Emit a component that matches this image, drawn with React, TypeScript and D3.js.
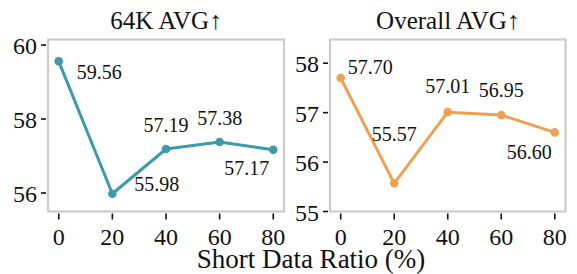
import React from "react";
import * as d3 from "d3";

const ratios = [0, 20, 40, 60, 80];
const avg64k = [59.56, 55.98, 57.19, 57.38, 57.17];
const overallAvg = [57.7, 55.57, 57.01, 56.95, 56.6];
const xTicks = [0, 20, 40, 60, 80];
const yTicks64k = [56, 58, 60];
const yTicksOverall = [55, 56, 57, 58];
const titles = ["64K AVG↑", "Overall AVG↑"];
const xLabel = "Short Data Ratio (%)";

// label placement: [dx, dy(baseline), anchor]
const offsets64k: [number, number, string][] = [
  [18, 18, "start"],
  [22, -3, "start"],
  [0, -17, "middle"],
  [0, -17, "middle"],
  [-4, 25, "end"],
];
const offsetsOverall: [number, number, string][] = [
  [7, -4, "start"],
  [0, -42, "middle"],
  [0, -19, "middle"],
  [0, -18, "middle"],
  [-3, 27, "end"],
];

const FONT = "'Liberation Serif', 'Times New Roman', serif";

type PanelProps = {
  x0: number;
  x1: number;
  y0: number;
  y1: number;
  yDomain: [number, number];
  values: number[];
  yTicks: number[];
  color: string;
  title: string;
  offsets: [number, number, string][];
  decimals: number;
};

function Panel(p: PanelProps) {
  const x = d3.scaleLinear().domain([-4, 84]).range([p.x0, p.x1]);
  const y = d3.scaleLinear().domain(p.yDomain).range([p.y1, p.y0]);
  const pts = ratios.map((r, i) => [x(r), y(p.values[i])] as [number, number]);
  const line = d3.line()(pts) || "";
  return (
    <g>
      <text x={(p.x0 + p.x1) / 2} y={29} textAnchor="middle" fontSize={25} fontFamily={FONT} fill="#111">
        {p.title}
      </text>
      <rect x={p.x0} y={p.y0} width={p.x1 - p.x0} height={p.y1 - p.y0} fill="white" stroke="#cccccc" strokeWidth={2.2} />
      {p.yTicks.map((t) => (
        <g key={"y" + t}>
          <line x1={p.x0 - 2} x2={p.x0 - 7} y1={y(t)} y2={y(t)} stroke="#111" strokeWidth={1.6} />
          <text x={p.x0 - 11} y={y(t) + 9} textAnchor="end" fontSize={24} fontFamily={FONT} fill="#111">
            {t}
          </text>
        </g>
      ))}
      {xTicks.map((t) => (
        <g key={"x" + t}>
          <line x1={x(t)} x2={x(t)} y1={p.y1 + 2} y2={p.y1 + 8} stroke="#111" strokeWidth={1.6} />
          <text x={x(t)} y={245} textAnchor="middle" fontSize={24} fontFamily={FONT} fill="#111">
            {t}
          </text>
        </g>
      ))}
      <path d={line} fill="none" stroke={p.color} strokeWidth={3} strokeLinejoin="round" />
      {pts.map((pt, i) => (
        <circle key={"c" + i} cx={pt[0]} cy={pt[1]} r={4.3} fill={p.color} />
      ))}
      {pts.map((pt, i) => (
        <text
          key={"l" + i}
          x={pt[0] + p.offsets[i][0]}
          y={pt[1] + p.offsets[i][1]}
          textAnchor={p.offsets[i][2] as any}
          fontSize={20}
          fontFamily={FONT}
          fill="#111"
        >
          {p.values[i].toFixed(p.decimals)}
        </text>
      ))}
    </g>
  );
}

export default function App() {
  return (
    <svg width={577} height={274} style={{ position: "absolute", left: 0, top: 0, background: "white" }}>
      <Panel
        x0={48}
        x1={284}
        y0={39.5}
        y1={211.5}
        yDomain={[55.5, 60.15]}
        values={avg64k}
        yTicks={yTicks64k}
        color="#3c9aad"
        title={titles[0]}
        offsets={offsets64k}
        decimals={2}
      />
      <Panel
        x0={330}
        x1={565.5}
        y0={39.5}
        y1={211.5}
        yDomain={[55, 58.48]}
        values={overallAvg}
        yTicks={yTicksOverall}
        color="#eea150"
        title={titles[1]}
        offsets={offsetsOverall}
        decimals={2}
      />
      <text x={311} y={268} textAnchor="middle" fontSize={27} fontFamily={FONT} fill="#111">
        {xLabel}
      </text>
    </svg>
  );
}
